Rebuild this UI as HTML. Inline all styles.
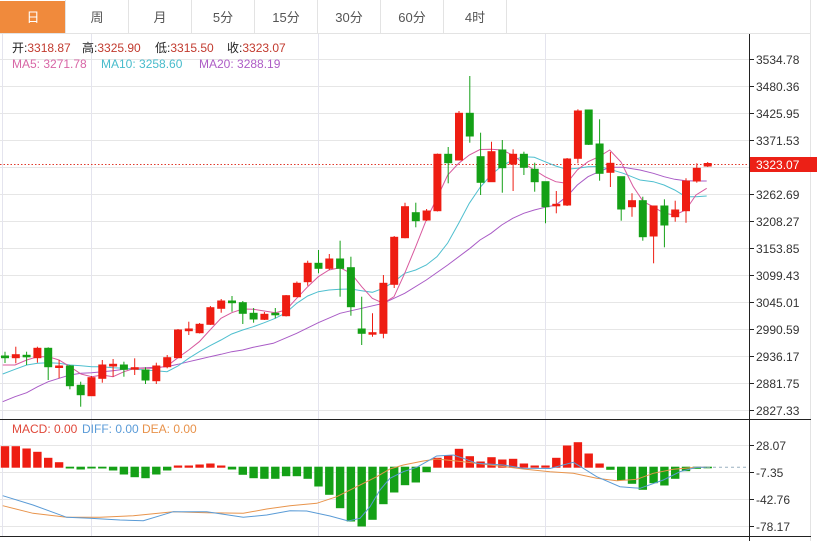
<!DOCTYPE html>
<html>
<head>
<meta charset="utf-8">
<style>
html,body{margin:0;padding:0;background:#fff;}
svg{display:block;}
text{font-family:"Liberation Sans","Noto Sans CJK SC",sans-serif;}
.r{fill:#ee1d12;stroke:#ee1d12;}
.g{fill:#14a016;stroke:#14a016;}
.wr{stroke:#ee1d12;stroke-width:1;}
.wg{stroke:#14a016;stroke-width:1;}
.grid{stroke:#e6e6e6;stroke-width:1;}
.vg{stroke:#e4e4ee;stroke-width:1;}
.ax{font-size:12px;fill:#333;}
</style>
</head>
<body>
<svg width="817" height="541" viewBox="0 0 817 541" xmlns="http://www.w3.org/2000/svg">
<!-- tab bar -->
<rect x="0" y="0" width="817" height="541" fill="#fff"/>
<rect x="0" y="1" width="65" height="32" fill="#f08a3c"/>
<g stroke="#e3e3e3" stroke-width="1">
<line x1="65.5" y1="0" x2="65.5" y2="33"/>
<line x1="128.5" y1="0" x2="128.5" y2="33"/>
<line x1="191.5" y1="0" x2="191.5" y2="33"/>
<line x1="254.5" y1="0" x2="254.5" y2="33"/>
<line x1="317.5" y1="0" x2="317.5" y2="33"/>
<line x1="380.5" y1="0" x2="380.5" y2="33"/>
<line x1="443.5" y1="0" x2="443.5" y2="33"/>
<line x1="506.5" y1="0" x2="506.5" y2="33"/>
<line x1="0" y1="33.5" x2="811" y2="33.5"/>
<line x1="810.5" y1="0" x2="810.5" y2="541"/>
</g>
<g font-size="13" text-anchor="middle" fill="#555">
<text x="33" y="22" fill="#fff">日</text>
<text x="97" y="22">周</text>
<text x="160" y="22">月</text>
<text x="223" y="22">5分</text>
<text x="286" y="22">15分</text>
<text x="349" y="22">30分</text>
<text x="412" y="22">60分</text>
<text x="475" y="22">4时</text>
</g>

<!-- horizontal grid main -->
<g class="grid">
<line x1="0" y1="59.5" x2="749" y2="59.5"/>
<line x1="0" y1="86.5" x2="749" y2="86.5"/>
<line x1="0" y1="113.5" x2="749" y2="113.5"/>
<line x1="0" y1="140.5" x2="749" y2="140.5"/>
<line x1="0" y1="167.5" x2="749" y2="167.5"/>
<line x1="0" y1="194.5" x2="749" y2="194.5"/>
<line x1="0" y1="221.5" x2="749" y2="221.5"/>
<line x1="0" y1="248.5" x2="749" y2="248.5"/>
<line x1="0" y1="275.5" x2="749" y2="275.5"/>
<line x1="0" y1="302.5" x2="749" y2="302.5"/>
<line x1="0" y1="329.5" x2="749" y2="329.5"/>
<line x1="0" y1="356.5" x2="749" y2="356.5"/>
<line x1="0" y1="383.5" x2="749" y2="383.5"/>
<line x1="0" y1="410.5" x2="749" y2="410.5"/>
<line x1="0" y1="445.5" x2="749" y2="445.5"/>
<line x1="0" y1="472.5" x2="749" y2="472.5"/>
<line x1="0" y1="499.5" x2="749" y2="499.5"/>
<line x1="0" y1="526.5" x2="749" y2="526.5"/>
</g>
<g class="vg">
<line x1="2.5" y1="34" x2="2.5" y2="537"/>
<line x1="91.5" y1="34" x2="91.5" y2="537"/>
<line x1="318.5" y1="34" x2="318.5" y2="537"/>
<line x1="545.5" y1="34" x2="545.5" y2="537"/>
</g>

<!-- price dotted line -->
<line x1="0" y1="164.5" x2="749" y2="164.5" stroke="#e0392b" stroke-width="1" stroke-dasharray="1.5,2"/>

<!-- MA lines -->
<polyline fill="none" stroke="#a95bc6" stroke-width="1" points="2.7,401.7 15,396.7 26.7,392.7 37.7,386.7 48.3,381.7 59,378.3 70,375 81,373.3 91.7,372.7 102.3,371.7 113,370.7 124,369.3 134.7,368.3 145.7,367.7 156,367.3 167,366.7 178,364.3 188.7,361.7 199.3,359.3 210,356.7 221,354.3 231.7,351.7 242.7,350 253.3,347.3 273.3,343.3 296.7,333.3 318.3,322.7 340,313.3 361.7,308.3 383.3,303.3 404.7,293.3 426.3,280 447.7,265 470,248.3 480,240 491,233.3 501.7,225 512.7,218.3 523.7,213.3 534.3,210 545,207.3 555.7,205 566.7,196.7 577.3,185 588,176.7 599,171.7 610,167.3 623.3,167.3 640,170 653.3,173.3 664,176.7 674.7,179.3 685.7,180.7 696,181 706.7,181"/>
<polyline fill="none" stroke="#4fbfcf" stroke-width="1" points="2.7,374 15,369.3 26.7,365 37.7,363.3 48.3,362.7 59,363.3 70,365 81,365.7 91.7,366.7 102.3,366.7 113,367.7 124,368.3 134.7,369.3 145.7,370 156,370.7 167,371.7 178,366 188.7,358.3 199.3,351.7 210,345.7 221,340 231.7,334 242.7,330 253.3,326.7 264.3,322.7 275.3,318.3 286,312.7 296.7,303.3 307.7,296 318.3,291.7 329,290 340,289.3 351,289 361.7,290.7 372.3,292.3 383.3,288.3 394,281.7 404.7,273.3 415.7,270 426.3,265 437,256.7 447.7,243 458.7,223.3 469.3,203.3 480,187.5 491,175 501.7,166 512.7,160 523.7,156.7 534.3,157.3 545,161.7 555.7,166 566.7,169.3 577.3,168.3 588,166.7 599,166.5 610,169.3 623.3,173.3 640,180 653.3,181.7 664,185 674.7,190 685.7,196.7 696,196.7 706.7,196"/>
<polyline fill="none" stroke="#d8599e" stroke-width="1" points="2.7,365 15,365 26.7,360 37.7,356.7 48.3,356.7 59,360 70,366.7 81,374 91.7,376.7 102.3,375 113,376.7 124,371.7 134.7,368.3 145.7,368.3 156,368.3 167,366 178,357.7 188.7,350 199.3,341.7 210,330 221,318.3 231.7,312.7 242.7,309 253.3,309.3 264.3,311 275.3,312.7 286,310 296.7,298.3 307.7,286.7 318.3,276.7 329,270 340,267.7 351,273.3 361.7,286.7 372.3,298.3 383.3,303.3 394,296.7 404.7,273.3 415.7,246.7 426.3,220 437,198 447.7,175 458.7,163.3 469.3,155 480,149.5 491,149.3 501.7,150 512.7,155 523.7,163.3 534.3,170 545,176.7 555.7,181.7 566.7,183.3 577.3,170 588,161.7 599,156.7 609.7,150 621,162 633.3,186.7 643.3,201.7 653.3,206.7 664,213.3 674.7,215 685.7,210 696,195 706.7,188.3"/>

<!-- candles -->
<g>
<line class="wg" x1="5.0" y1="351.7" x2="5.0" y2="363"/><rect class="g" x="1.5" y="356" width="7" height="1.7"/>
<line class="wr" x1="15.8" y1="346.7" x2="15.8" y2="363.3"/><rect class="r" x="12.3" y="354.7" width="7" height="3"/>
<line class="wg" x1="26.6" y1="351.7" x2="26.6" y2="365"/><rect class="g" x="23.1" y="355.3" width="7" height="1.5"/>
<line class="wr" x1="37.4" y1="346.7" x2="37.4" y2="362.7"/><rect class="r" x="33.9" y="348.3" width="7" height="9.4"/>
<line class="wg" x1="48.2" y1="347.3" x2="48.2" y2="380"/><rect class="g" x="44.7" y="348.3" width="7" height="18.4"/>
<line class="wr" x1="59.1" y1="360" x2="59.1" y2="378.3"/><rect class="r" x="55.6" y="366" width="7" height="1.5"/>
<line class="wg" x1="69.9" y1="365" x2="69.9" y2="389.3"/><rect class="g" x="66.4" y="366" width="7" height="19.7"/>
<line class="wg" x1="80.7" y1="381.7" x2="80.7" y2="406.7"/><rect class="g" x="77.2" y="385.3" width="7" height="9.4"/>
<line class="wr" x1="91.5" y1="376" x2="91.5" y2="396"/><rect class="r" x="88" y="377.7" width="7" height="18"/>
<line class="wr" x1="102.3" y1="360" x2="102.3" y2="382.7"/><rect class="r" x="98.8" y="365" width="7" height="13.3"/>
<line class="wr" x1="113.1" y1="359" x2="113.1" y2="376.7"/><rect class="r" x="109.6" y="364.3" width="7" height="1.7"/>
<line class="wg" x1="123.9" y1="361.7" x2="123.9" y2="376.7"/><rect class="g" x="120.4" y="365" width="7" height="4.3"/>
<line class="wr" x1="134.7" y1="358.3" x2="134.7" y2="375"/><rect class="r" x="131.2" y="367.7" width="7" height="1.5"/>
<line class="wg" x1="145.5" y1="367.3" x2="145.5" y2="384"/><rect class="g" x="142" y="370" width="7" height="10"/>
<line class="wr" x1="156.3" y1="362.7" x2="156.3" y2="384"/><rect class="r" x="152.8" y="366" width="7" height="14.7"/>
<line class="wr" x1="167.2" y1="355" x2="167.2" y2="368.3"/><rect class="r" x="163.7" y="357.7" width="7" height="9"/>
<line class="wr" x1="178.0" y1="329" x2="178.0" y2="358"/><rect class="r" x="174.5" y="330" width="7" height="27.7"/>
<line class="wr" x1="188.8" y1="321.7" x2="188.8" y2="335"/><rect class="r" x="185.3" y="329" width="7" height="1.7"/>
<line class="wr" x1="199.6" y1="323" x2="199.6" y2="333.5"/><rect class="r" x="196.1" y="324.3" width="7" height="8.4"/>
<line class="wr" x1="210.4" y1="306" x2="210.4" y2="325"/><rect class="r" x="206.9" y="307.7" width="7" height="16.6"/>
<line class="wr" x1="221.2" y1="299" x2="221.2" y2="312.7"/><rect class="r" x="217.7" y="301" width="7" height="7.3"/>
<line class="wg" x1="232.0" y1="296" x2="232.0" y2="311.7"/><rect class="g" x="228.5" y="301" width="7" height="1.7"/>
<line class="wg" x1="242.8" y1="301" x2="242.8" y2="324"/><rect class="g" x="239.3" y="302.7" width="7" height="10.6"/>
<line class="wg" x1="253.6" y1="308" x2="253.6" y2="322.7"/><rect class="g" x="250.1" y="313.3" width="7" height="5.7"/>
<line class="wr" x1="264.4" y1="312" x2="264.4" y2="320"/><rect class="r" x="260.9" y="314.3" width="7" height="5"/>
<line class="wg" x1="275.3" y1="308" x2="275.3" y2="318.3"/><rect class="g" x="271.8" y="313.3" width="7" height="1.5"/>
<line class="wr" x1="286.1" y1="295" x2="286.1" y2="316.5"/><rect class="r" x="282.6" y="295.7" width="7" height="20"/>
<line class="wr" x1="296.9" y1="281.5" x2="296.9" y2="297"/><rect class="r" x="293.4" y="283.3" width="7" height="13.4"/>
<line class="wr" x1="307.7" y1="260.7" x2="307.7" y2="285.7"/><rect class="r" x="304.2" y="263.3" width="7" height="18.4"/>
<line class="wg" x1="318.5" y1="250" x2="318.5" y2="273.3"/><rect class="g" x="315" y="263.3" width="7" height="5"/>
<line class="wr" x1="329.3" y1="254" x2="329.3" y2="270"/><rect class="r" x="325.8" y="259" width="7" height="9.3"/>
<line class="wg" x1="340.1" y1="240.7" x2="340.1" y2="296.7"/><rect class="g" x="336.6" y="259" width="7" height="9.3"/>
<line class="wg" x1="350.9" y1="256.7" x2="350.9" y2="315.7"/><rect class="g" x="347.4" y="267.7" width="7" height="39"/>
<line class="wg" x1="361.7" y1="296.7" x2="361.7" y2="345"/><rect class="g" x="358.2" y="329" width="7" height="4.3"/>
<line class="wr" x1="372.5" y1="313.3" x2="372.5" y2="336.7"/><rect class="r" x="369" y="332.7" width="7" height="1.5"/>
<line class="wr" x1="383.4" y1="275" x2="383.4" y2="338.3"/><rect class="r" x="379.9" y="283.3" width="7" height="50"/>
<line class="wr" x1="394.2" y1="236" x2="394.2" y2="288"/><rect class="r" x="390.7" y="237.3" width="7" height="47"/>
<line class="wr" x1="405.0" y1="202.7" x2="405.0" y2="238.3"/><rect class="r" x="401.5" y="206.7" width="7" height="31"/>
<line class="wg" x1="415.8" y1="202.7" x2="415.8" y2="227.3"/><rect class="g" x="412.3" y="212.7" width="7" height="8"/>
<line class="wr" x1="426.6" y1="209" x2="426.6" y2="221"/><rect class="r" x="423.1" y="211" width="7" height="9"/>
<line class="wr" x1="437.4" y1="153.5" x2="437.4" y2="211.5"/><rect class="r" x="433.9" y="154.3" width="7" height="56.4"/>
<line class="wg" x1="448.2" y1="147" x2="448.2" y2="183.3"/><rect class="g" x="444.7" y="154.3" width="7" height="8.4"/>
<line class="wr" x1="459.0" y1="111" x2="459.0" y2="160.5"/><rect class="r" x="455.5" y="113.3" width="7" height="46.7"/>
<line class="wg" x1="469.8" y1="76" x2="469.8" y2="142.7"/><rect class="g" x="466.3" y="113.3" width="7" height="22.7"/>
<line class="wg" x1="480.6" y1="132.7" x2="480.6" y2="195"/><rect class="g" x="477.1" y="156.7" width="7" height="25.6"/>
<line class="wr" x1="491.5" y1="141.7" x2="491.5" y2="182"/><rect class="r" x="488" y="151.7" width="7" height="30"/>
<line class="wg" x1="502.3" y1="140" x2="502.3" y2="192.7"/><rect class="g" x="498.8" y="150" width="7" height="17.7"/>
<line class="wr" x1="513.1" y1="149.3" x2="513.1" y2="191"/><rect class="r" x="509.6" y="154.3" width="7" height="9.7"/>
<line class="wg" x1="523.9" y1="151.7" x2="523.9" y2="175"/><rect class="g" x="520.4" y="154.3" width="7" height="13"/>
<line class="wg" x1="534.7" y1="162.7" x2="534.7" y2="191.7"/><rect class="g" x="531.2" y="169.3" width="7" height="12.4"/>
<line class="wg" x1="545.5" y1="181.7" x2="545.5" y2="223.3"/><rect class="g" x="542" y="181.7" width="7" height="25"/>
<line class="wr" x1="556.3" y1="191" x2="556.3" y2="213.3"/><rect class="r" x="552.8" y="204.3" width="7" height="1.5"/>
<line class="wr" x1="567.1" y1="158" x2="567.1" y2="206"/><rect class="r" x="563.6" y="159" width="7" height="46"/>
<line class="wr" x1="577.9" y1="109.3" x2="577.9" y2="163.3"/><rect class="r" x="574.4" y="111" width="7" height="47.3"/>
<line class="wg" x1="588.7" y1="109.5" x2="588.7" y2="145"/><rect class="g" x="585.2" y="110" width="7" height="34.3"/>
<line class="wg" x1="599.6" y1="119.3" x2="599.6" y2="180.7"/><rect class="g" x="596.1" y="144" width="7" height="29.3"/>
<line class="wr" x1="610.4" y1="152" x2="610.4" y2="187"/><rect class="r" x="606.9" y="163.3" width="7" height="9"/>
<line class="wg" x1="621.2" y1="176.7" x2="621.2" y2="220.7"/><rect class="g" x="617.7" y="176.7" width="7" height="32.3"/>
<line class="wr" x1="632.0" y1="193.3" x2="632.0" y2="216.7"/><rect class="r" x="628.5" y="200.7" width="7" height="6"/>
<line class="wg" x1="642.8" y1="196.7" x2="642.8" y2="240.7"/><rect class="g" x="639.3" y="200.7" width="7" height="36"/>
<line class="wr" x1="653.6" y1="206" x2="653.6" y2="263.3"/><rect class="r" x="650.1" y="206" width="7" height="30"/>
<line class="wg" x1="664.4" y1="199.3" x2="664.4" y2="247.3"/><rect class="g" x="660.9" y="206" width="7" height="19"/>
<line class="wr" x1="675.2" y1="200.7" x2="675.2" y2="221.7"/><rect class="r" x="671.7" y="210" width="7" height="6.7"/>
<line class="wr" x1="686.0" y1="178.3" x2="686.0" y2="222.7"/><rect class="r" x="682.5" y="181" width="7" height="29.7"/>
<line class="wr" x1="696.8" y1="163.3" x2="696.8" y2="182.7"/><rect class="r" x="693.3" y="168.3" width="7" height="12.7"/>
<line class="wr" x1="707.7" y1="162" x2="707.7" y2="167"/><rect class="r" x="704.2" y="163.5" width="7" height="2.5"/>
</g>

<!-- legend -->
<g font-size="12">
<text x="12" y="52" fill="#222">开:<tspan fill="#c23a2e">3318.87</tspan></text>
<text x="82" y="52" fill="#222">高:<tspan fill="#c23a2e">3325.90</tspan></text>
<text x="155" y="52" fill="#222">低:<tspan fill="#c23a2e">3315.50</tspan></text>
<text x="227" y="52" fill="#222">收:<tspan fill="#c23a2e">3323.07</tspan></text>
<text x="12" y="68" fill="#d866a6">MA5: 3271.78</text>
<text x="101" y="68" fill="#48bccc">MA10: 3258.60</text>
<text x="199" y="68" fill="#ae5dc6">MA20: 3288.19</text>
</g>

<!-- MACD pane separators -->
<line x1="0" y1="419.5" x2="811" y2="419.5" stroke="#222" stroke-width="1"/>
<line x1="0" y1="536.5" x2="811" y2="536.5" stroke="#222" stroke-width="1"/>

<g font-size="12">
<text x="12" y="433" fill="#e0483a">MACD: 0.00</text>
<text x="82" y="433" fill="#5a9bd8">DIFF: 0.00</text>
<text x="142" y="433" fill="#e8924a">DEA: 0.00</text>
</g>

<!-- MACD histogram -->
<g>
<rect class="r" x="1.3" y="446.7" width="7.4" height="20.5"/>
<rect class="r" x="12.1" y="446.7" width="7.4" height="20.5"/>
<rect class="r" x="22.9" y="449" width="7.4" height="18.2"/>
<rect class="r" x="33.7" y="452.3" width="7.4" height="14.9"/>
<rect class="r" x="44.5" y="458.3" width="7.4" height="8.9"/>
<rect class="r" x="55.4" y="462.7" width="7.4" height="4.5"/>
<rect class="g" x="66.2" y="467.2" width="7.4" height="0.8"/>
<rect class="g" x="77" y="467.2" width="7.4" height="1.8"/>
<rect class="g" x="87.8" y="467.2" width="7.4" height="0.8"/>
<rect class="g" x="98.6" y="467.2" width="7.4" height="0.8"/>
<rect class="g" x="109.4" y="467.2" width="7.4" height="2.8"/>
<rect class="g" x="120.2" y="467.2" width="7.4" height="6.8"/>
<rect class="g" x="131" y="467.2" width="7.4" height="9.5"/>
<rect class="g" x="141.8" y="467.2" width="7.4" height="10.5"/>
<rect class="g" x="152.6" y="467.2" width="7.4" height="6.8"/>
<rect class="g" x="163.5" y="467.2" width="7.4" height="2.8"/>
<rect class="r" x="174.3" y="466" width="7.4" height="1.2"/>
<rect class="r" x="185.1" y="466" width="7.4" height="1.2"/>
<rect class="r" x="195.9" y="465" width="7.4" height="2.2"/>
<rect class="r" x="206.7" y="464" width="7.4" height="3.2"/>
<rect class="r" x="217.5" y="466" width="7.4" height="1.2"/>
<rect class="g" x="228.3" y="467.2" width="7.4" height="1.8"/>
<rect class="g" x="239.1" y="467.2" width="7.4" height="7.1"/>
<rect class="g" x="249.9" y="467.2" width="7.4" height="10.5"/>
<rect class="g" x="260.7" y="467.2" width="7.4" height="11.1"/>
<rect class="g" x="271.6" y="467.2" width="7.4" height="11.1"/>
<rect class="g" x="282.4" y="467.2" width="7.4" height="8.5"/>
<rect class="g" x="293.2" y="467.2" width="7.4" height="8.5"/>
<rect class="g" x="304" y="467.2" width="7.4" height="11.1"/>
<rect class="g" x="314.8" y="467.2" width="7.4" height="18.8"/>
<rect class="g" x="325.6" y="467.2" width="7.4" height="27.1"/>
<rect class="g" x="336.4" y="467.2" width="7.4" height="40.5"/>
<rect class="g" x="347.2" y="467.2" width="7.4" height="53.8"/>
<rect class="g" x="358" y="467.2" width="7.4" height="58.8"/>
<rect class="g" x="368.8" y="467.2" width="7.4" height="52.1"/>
<rect class="g" x="379.7" y="467.2" width="7.4" height="36.5"/>
<rect class="g" x="390.5" y="467.2" width="7.4" height="24.8"/>
<rect class="g" x="401.3" y="467.2" width="7.4" height="17.5"/>
<rect class="g" x="412.1" y="467.2" width="7.4" height="14.8"/>
<rect class="g" x="422.9" y="467.2" width="7.4" height="4.5"/>
<rect class="r" x="433.7" y="458.3" width="7.4" height="8.9"/>
<rect class="r" x="444.5" y="456" width="7.4" height="11.2"/>
<rect class="r" x="455.3" y="449.3" width="7.4" height="17.9"/>
<rect class="r" x="466.1" y="456.7" width="7.4" height="10.5"/>
<rect class="r" x="476.9" y="462" width="7.4" height="5.2"/>
<rect class="r" x="487.8" y="457.7" width="7.4" height="9.5"/>
<rect class="r" x="498.6" y="460" width="7.4" height="7.2"/>
<rect class="r" x="509.4" y="459.3" width="7.4" height="7.9"/>
<rect class="r" x="520.2" y="464" width="7.4" height="3.2"/>
<rect class="r" x="531" y="466" width="7.4" height="1.2"/>
<rect class="r" x="541.8" y="466" width="7.4" height="1.2"/>
<rect class="r" x="552.6" y="458.3" width="7.4" height="8.9"/>
<rect class="r" x="563.4" y="446" width="7.4" height="21.2"/>
<rect class="r" x="574.2" y="442.7" width="7.4" height="24.5"/>
<rect class="r" x="585" y="454" width="7.4" height="13.2"/>
<rect class="r" x="595.9" y="464" width="7.4" height="3.2"/>
<rect class="g" x="606.7" y="467.2" width="7.4" height="2.1"/>
<rect class="g" x="617.5" y="467.2" width="7.4" height="12.8"/>
<rect class="g" x="628.3" y="467.2" width="7.4" height="16.1"/>
<rect class="g" x="639.1" y="467.2" width="7.4" height="22.1"/>
<rect class="g" x="649.9" y="467.2" width="7.4" height="15.5"/>
<rect class="g" x="660.7" y="467.2" width="7.4" height="17.8"/>
<rect class="g" x="671.5" y="467.2" width="7.4" height="11.1"/>
<rect class="g" x="682.3" y="467.2" width="7.4" height="3.5"/>
<rect class="g" x="693.1" y="467.2" width="7.4" height="1.1"/>
<rect class="g" x="704" y="467.2" width="7.4" height="0.6"/>
</g>

<!-- MACD lines -->
<polyline fill="none" stroke="#e8944c" stroke-width="1" points="2.7,505.7 33,513.3 66.7,517.3 100,517.3 133.3,515.7 173.3,511.7 206.7,512.7 243.3,513.3 266.7,509 290,505.7 316.7,503.3 336.7,496.7 356.7,486.7 376.7,476.7 390,469 403.3,465 423.3,461 436.7,459 463.3,461.7 490,465 523.3,469 550,471.7 573.3,473.3 596.7,478.3 616.7,480.7 636.7,479.3 653.3,473.3 673.3,469.3 696.7,467.3 706.7,467.3"/>
<polyline fill="none" stroke="#5a9bd6" stroke-width="1" points="2.7,495.7 33,505 66.7,517.3 90,518.3 120,520 143.3,520.7 173.3,511.7 206.7,511.7 243.3,517.3 266.7,515 290,510.7 306.7,511 330,516 348.3,521 360,518.3 370,506.7 380,490 390,478.3 403.3,471.7 416.7,467.3 426.7,461.7 436.7,456 453.3,455 463.3,458.3 476.7,463.3 503.3,465 523.3,468.3 550,468.5 573.3,462.3 583.3,468.3 596.7,476.7 620,486.7 640,488.3 663.3,480 680,471.7 696.7,467.3 706.7,467.3"/>
<line x1="707" y1="467.3" x2="749" y2="467.3" stroke="#9ab0c0" stroke-width="1" stroke-dasharray="3,3"/>

<!-- axis -->
<line x1="749.5" y1="34" x2="749.5" y2="541" stroke="#222" stroke-width="1"/>
<g stroke="#222" stroke-width="1">
<line x1="749" y1="59.5" x2="754" y2="59.5"/>
<line x1="749" y1="86.5" x2="754" y2="86.5"/>
<line x1="749" y1="113.5" x2="754" y2="113.5"/>
<line x1="749" y1="140.5" x2="754" y2="140.5"/>
<line x1="749" y1="194.5" x2="754" y2="194.5"/>
<line x1="749" y1="221.5" x2="754" y2="221.5"/>
<line x1="749" y1="248.5" x2="754" y2="248.5"/>
<line x1="749" y1="275.5" x2="754" y2="275.5"/>
<line x1="749" y1="302.5" x2="754" y2="302.5"/>
<line x1="749" y1="329.5" x2="754" y2="329.5"/>
<line x1="749" y1="356.5" x2="754" y2="356.5"/>
<line x1="749" y1="383.5" x2="754" y2="383.5"/>
<line x1="749" y1="410.5" x2="754" y2="410.5"/>
<line x1="749" y1="445.5" x2="754" y2="445.5"/>
<line x1="749" y1="472.5" x2="754" y2="472.5"/>
<line x1="749" y1="499.5" x2="754" y2="499.5"/>
<line x1="749" y1="526.5" x2="754" y2="526.5"/>
</g>
<g class="ax">
<text x="756" y="64">3534.78</text>
<text x="756" y="91">3480.36</text>
<text x="756" y="118">3425.95</text>
<text x="756" y="145">3371.53</text>
<text x="756" y="199">3262.69</text>
<text x="756" y="226">3208.27</text>
<text x="756" y="253">3153.85</text>
<text x="756" y="280">3099.43</text>
<text x="756" y="307">3045.01</text>
<text x="756" y="334">2990.59</text>
<text x="756" y="361">2936.17</text>
<text x="756" y="388">2881.75</text>
<text x="756" y="415">2827.33</text>
<text x="756" y="450">28.07</text>
<text x="756" y="477">-7.35</text>
<text x="756" y="504">-42.76</text>
<text x="756" y="531">-78.17</text>
</g>
<rect x="750" y="157" width="67" height="15" fill="#ec2016"/>
<text x="756" y="169" font-size="12" fill="#fff">3323.07</text>
</svg>
</body>
</html>
